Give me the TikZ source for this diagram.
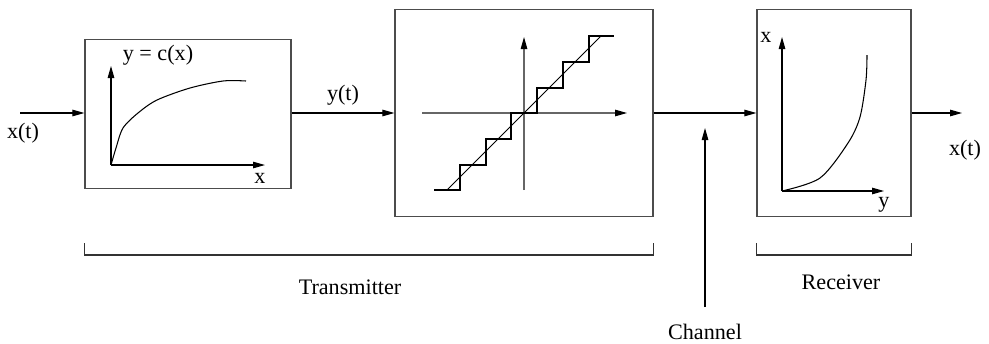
\documentclass[tikz,border=0pt]{standalone}
\usepackage{fontspec}
\setmainfont{Liberation Serif}
\usetikzlibrary{arrows.meta,positioning}

\tikzset{
	blockbox/.style={draw=black!70, line width=0.7pt, inner sep=0pt},
	sig/.style={line width=0.6pt, -{Triangle[length=0.24cm,width=0.13cm]}},
	axis/.style={line width=0.6pt, -{Triangle[length=0.24cm,width=0.13cm,black]}},
	bracket/.style={line width=0.6pt, draw=black!80},
}

\begin{document}
\begin{tikzpicture}[x=0.02cm, y=-0.02cm, font=\fontsize{12.6}{15}\selectfont]
				
				\useasboundingbox (0,0) rectangle (989,343);
				
				% The three blocks
				\node[blockbox, minimum width=4.12cm, minimum height=2.98cm] (compressor) at (188,114) {};
				\node[blockbox, minimum width=5.16cm, minimum height=4.14cm] (quantizer) at (524,113) {};
				\node[blockbox, minimum width=3.08cm, minimum height=4.14cm] (expander) at (834,113) {};
				
				% Signal path
				\coordinate (in) at (20,113);
				\coordinate (out) at (962,113);
				\draw[sig] (in) -- (in -| compressor.west);
				\draw[sig] (compressor.east |- in) -- node[above=1pt] (ylabel) {y(t)} (quantizer.west |- in);
				\draw[sig] (quantizer.east) -- (expander.west);
				\draw[sig] (expander.east) -- (out);
				\node (xin) at (23,133) {x(t)};
				\node (xout) at (965,150) {x(t)};
				
				% Channel arrow from below
				\node (chlabel) at (705,332) {Channel};
				\coordinate (chbase) at (705,307);
				\coordinate (chtip) at (705,128);
				\draw[sig] (chbase) -- (chtip);
				
				% Compressor curve y = c(x)
				\draw[axis] (111,165) -- (111,66);
				\draw[axis] (111,165) -- (265,165);
				\draw[line width=0.6pt] plot[smooth] coordinates {(111,165) (116,148) (123,128) (138,113) (157,100) (190,88) (223,81) (246,81)};
				\node (clabel) at (158,55) {y = c(x)};
				\node (cx) at (260,178) {x};
				
				% Quantizer staircase
				\draw[axis, draw=black!60] (524,190) -- (524,37);
				\draw[axis, draw=black!60] (422,113) -- (627,113);
				\draw[line width=0.5pt] (447,190) -- (601,36);
				\draw[line width=1pt] (434,190) -- (460,190) |- (486,165) |- (511,139) |- (537,113) |- (563,88) |- (589,62) |- (614,36);
				
				% Expander curve
				\draw[axis] (782,191) -- (782,37);
				\draw[axis] (782,191) -- (884,191);
				\draw[line width=0.6pt] plot[smooth] coordinates {(782,191) (820,178) (848,143) (860,117) (866,80) (867,55)};
				\node (ex) at (766,37) {x};
				\node (ey) at (884,205) {y};
				
				% Brackets
				\draw[bracket] (compressor.west |- 0,243) -- (compressor.west |- 0,255) -- (quantizer.east |- 0,255) -- (quantizer.east |- 0,243);
				\draw[bracket] (expander.west |- 0,243) -- (expander.west |- 0,255) -- (expander.east |- 0,255) -- (expander.east |- 0,243);
				\node (txlabel) at (350,287) {Transmitter};
				\node (rxlabel) at (841,282) {Receiver};
				
			\end{tikzpicture}
\end{document}
